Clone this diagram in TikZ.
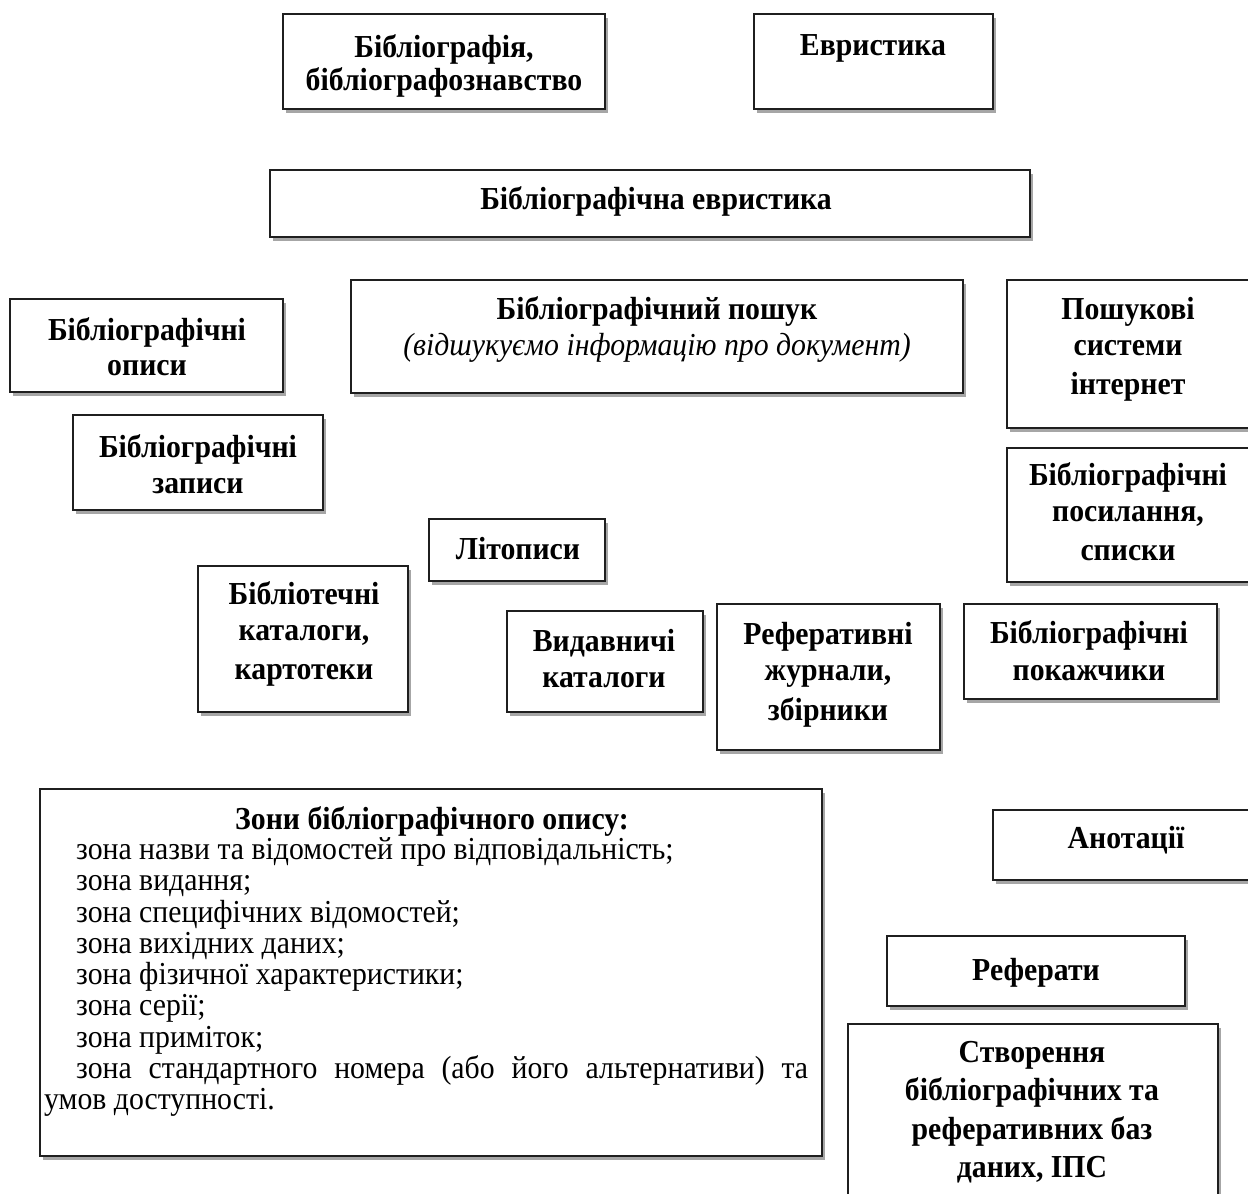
\documentclass[tikz,border=0pt]{standalone}
\usepackage{fontspec}
\setmainfont{Liberation Serif}[FakeStretch=0.93]
\usetikzlibrary{shadows,fit}
\begin{document}
\begin{tikzpicture}[x=1pt,y=-1pt,
  box/.style={draw=black!88, line width=1.6pt, fill=white, inner sep=0pt,
    drop shadow={shadow xshift=3pt, shadow yshift=-4pt, fill=black!35, opacity=1}},
  bt/.style={anchor=base, inner sep=0pt, font=\fontsize{32}{38}\selectfont\bfseries},
  itx/.style={anchor=base, inner sep=0pt, font=\fontsize{32}{38}\selectfont\itshape},
  rt/.style={anchor=base west, inner sep=0pt, font=\fontsize{32}{38}\selectfont}]
\path[use as bounding box] (0,0) rectangle (1248,1194);
\fill[white] (0,0) rectangle (1248,1194);
\clip (0,0) rectangle (1248,1194);

% boxes
\node[box, fit={(283,14)(605,109)}] (b1) {};
\node[box, fit={(754,14)(993,109)}] (b2) {};
\node[box, fit={(270,170)(1030,237)}] (b3) {};
\node[box, fit={(10,299)(283,392)}] (b4) {};
\node[box, fit={(351,280)(963,393)}] (b5) {};
\node[box, fit={(1007,280)(1262,428)}] (b6) {};
\node[box, fit={(73,415)(323,510)}] (b7) {};
\node[box, fit={(1007,448)(1262,582)}] (b8) {};
\node[box, fit={(429,519)(605,581)}] (b9) {};
\node[box, fit={(198,566)(408,712)}] (b10) {};
\node[box, fit={(507,611)(703,712)}] (b11) {};
\node[box, fit={(717,604)(940,750)}] (b12) {};
\node[box, fit={(964,604)(1217,699)}] (b13) {};
\node[box, fit={(40,789)(822,1156)}] (b14) {};
\node[box, fit={(993,810)(1262,880)}] (b15) {};
\node[box, fit={(887,936)(1185,1006)}] (b16) {};
\node[box, fit={(848,1024)(1218,1220)}] (b17) {};

% texts
\node[bt] (t1a) at (444,57) {Бібліографія,};
\node[bt] (t1b) at (444,90) {бібліографознавство};
\node[bt] (t2) at (873,55) {Евристика};
\node[bt] (t3) at (656,209) {Бібліографічна евристика};
\node[bt] (t4a) at (147,340) {Бібліографічні};
\node[bt] (t4b) at (147,375) {описи};
\node[bt] (t5a) at (657,319) {Бібліографічний пошук};
\node[itx] (t5b) at (657,355) {(відшукуємо інформацію про документ)};
\node[bt] (t6a) at (1128,319) {Пошукові};
\node[bt] (t6b) at (1128,355) {системи};
\node[bt] (t6c) at (1128,394) {інтернет};
\node[bt] (t7a) at (198,457) {Бібліографічні};
\node[bt] (t7b) at (198,493) {записи};
\node[bt] (t8a) at (1128,485) {Бібліографічні};
\node[bt] (t8b) at (1128,521) {посилання,};
\node[bt] (t8c) at (1128,560) {списки};
\node[bt] (t9) at (518,559) {Літописи};
\node[bt] (t10a) at (304,604) {Бібліотечні};
\node[bt] (t10b) at (304,640) {каталоги,};
\node[bt] (t10c) at (304,679) {картотеки};
\node[bt] (t11a) at (604,651) {Видавничі};
\node[bt] (t11b) at (604,687) {каталоги};
\node[bt] (t12a) at (828,644) {Реферативні};
\node[bt] (t12b) at (828,680) {журнали,};
\node[bt] (t12c) at (828,720) {збірники};
\node[bt] (t13a) at (1089,643) {Бібліографічні};
\node[bt] (t13b) at (1089,680) {покажчики};
\node[bt] (t15) at (1126,848) {Анотації};
\node[bt] (t16) at (1036,980) {Реферати};
\node[bt] (t17a) at (1032,1062) {Створення};
\node[bt] (t17b) at (1032,1100) {бібліографічних та};
\node[bt] (t17c) at (1032,1139) {реферативних баз};
\node[bt] (t17d) at (1032,1177) {даних, ІПС};

\node[bt] (z0) at (432,829) {Зони бібліографічного опису:};
\node[rt] (z1) at (76,859) {зона назви та відомостей про відповідальність;};
\node[rt] (z2) at (76,890) {зона видання;};
\node[rt] (z3) at (76,922) {зона специфічних відомостей;};
\node[rt] (z4) at (76,953) {зона вихідних даних;};
\node[rt] (z5) at (76,984) {зона фізичної характеристики;};
\node[rt] (z6) at (76,1015) {зона серії;};
\node[rt] (z7) at (76,1047) {зона приміток;};
\node[rt] (z8) at (76,1078) {\makebox[732pt][s]{зона стандартного номера (або його альтернативи) та}};
\node[rt] (z9) at (44,1109) {умов доступності.};
\end{tikzpicture}
\end{document}
